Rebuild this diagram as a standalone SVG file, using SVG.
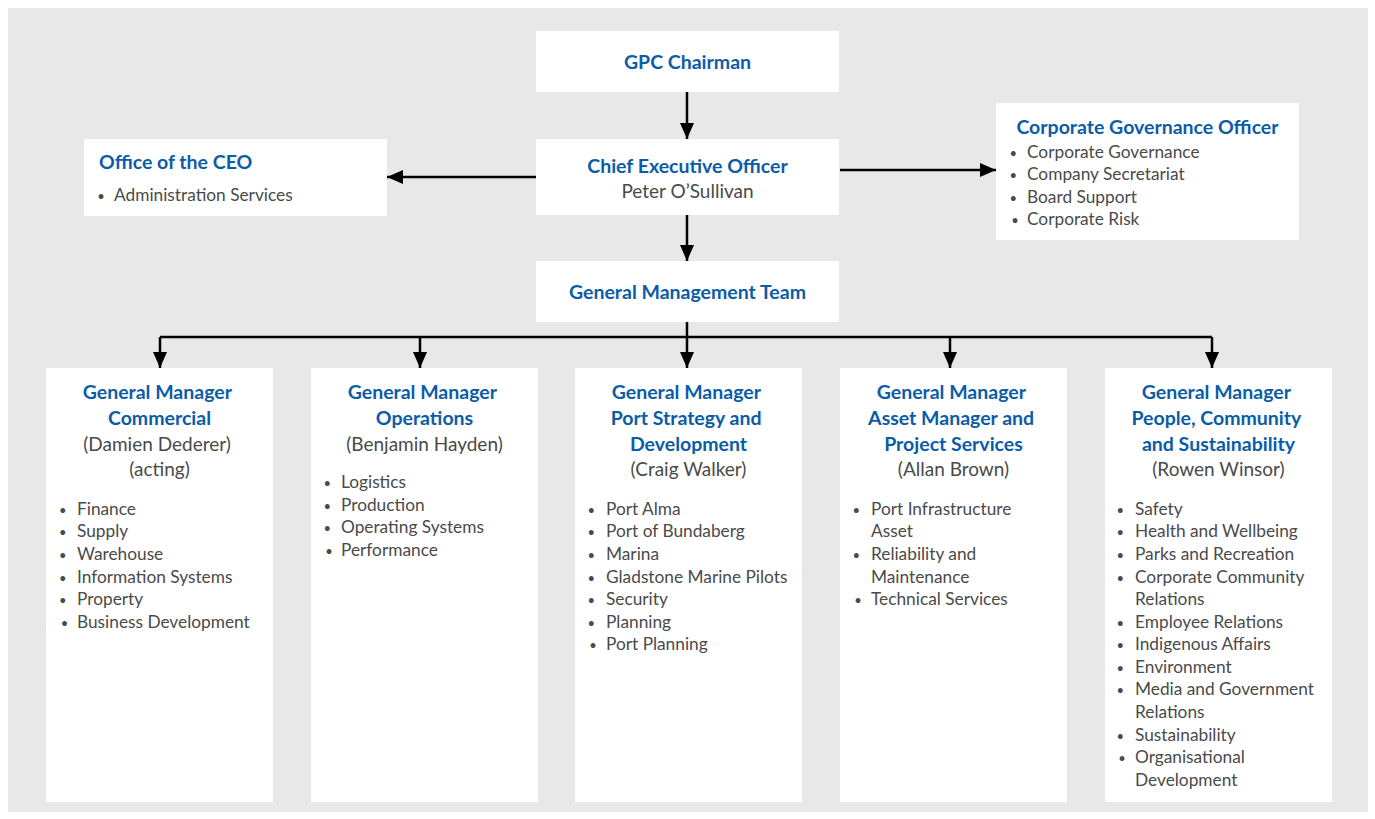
<svg xmlns="http://www.w3.org/2000/svg" width="1375" height="819" viewBox="0 0 1375 819">
  <style>
    .box { fill: #ffffff; }
    .h { font-family: Lato, "Open Sans", "Liberation Sans", sans-serif; font-weight: 700; font-size: 19.5px; fill: #0b5ca8; }
    .n { font-family: Lato, "Open Sans", "Liberation Sans", sans-serif; font-size: 19px; fill: #4a4a4a; }
    .p { font-family: Lato, "Open Sans", "Liberation Sans", sans-serif; font-size: 17.3px; fill: #4a4a4a; }
    .dot { font-family: Lato, "Open Sans", "Liberation Sans", sans-serif; font-size: 13px; fill: #4a4a4a; text-anchor: middle; }
    .c { text-anchor: middle; }
    .link { fill: none; stroke: #000; stroke-width: 2.5; }
  </style>
  <defs>
    <marker id="arrow" markerUnits="userSpaceOnUse" markerWidth="16" markerHeight="14" refX="16" refY="7" orient="auto">
      <path d="M0,0 L16,7 L0,14 Z" fill="#000"/>
    </marker>
  </defs>

  <rect x="0" y="0" width="1375" height="819" fill="#ffffff"/>
  <rect x="8" y="8" width="1360" height="804" fill="#e8e8e8"/>

  <g id="connectors">
    <line class="link" x1="687" y1="92" x2="687" y2="139" marker-end="url(#arrow)"/>
    <line class="link" x1="687" y1="215" x2="687" y2="261" marker-end="url(#arrow)"/>
    <line class="link" x1="536" y1="177" x2="387" y2="177" marker-end="url(#arrow)"/>
    <line class="link" x1="840" y1="170" x2="996" y2="170" marker-end="url(#arrow)"/>
    <polyline class="link" points="687,322 687,337"/>
    <line class="link" x1="160" y1="337" x2="1212" y2="337"/>
    <line class="link" x1="160" y1="337" x2="160" y2="368" marker-end="url(#arrow)"/>
    <line class="link" x1="420" y1="337" x2="420" y2="368" marker-end="url(#arrow)"/>
    <line class="link" x1="687" y1="337" x2="687" y2="368" marker-end="url(#arrow)"/>
    <line class="link" x1="950" y1="337" x2="950" y2="368" marker-end="url(#arrow)"/>
    <line class="link" x1="1212" y1="337" x2="1212" y2="368" marker-end="url(#arrow)"/>
  </g>

  <g id="gpc-chairman">
    <rect class="box" x="536" y="31" width="303" height="61"/>
    <text class="h c" x="687.5" y="69">GPC Chairman</text>
  </g>

  <g id="ceo">
    <rect class="box" x="536" y="139" width="303" height="76"/>
    <text class="h c" x="687.5" y="172.5">Chief Executive Officer</text>
    <text class="n c" x="687.5" y="198">Peter O’Sullivan</text>
  </g>

  <g id="gmt">
    <rect class="box" x="536" y="261" width="303" height="61"/>
    <text class="h c" x="687.5" y="299">General Management Team</text>
  </g>

  <g id="office-ceo">
    <rect class="box" x="84" y="139" width="303" height="77"/>
    <text class="h" x="99" y="169">Office of the CEO</text>
    <text class="dot" x="101" y="200.5">•</text>
    <text class="p" x="114" y="200.5">Administration Services</text>
  </g>

  <g id="cgo">
    <rect class="box" x="996" y="103" width="303" height="137"/>
    <text class="h c" x="1147.5" y="134">Corporate Governance Officer</text>
    <text class="dot">
      <tspan x="1015" y="157.5">•</tspan>
      <tspan x="1015" y="180">•</tspan>
      <tspan x="1015" y="202.5">•</tspan>
      <tspan x="1015" y="225">•</tspan>
    </text>
    <text class="p">
      <tspan x="1027" y="157.5">Corporate Governance</tspan>
      <tspan x="1027" y="180">Company Secretariat</tspan>
      <tspan x="1027" y="202.5">Board Support</tspan>
      <tspan x="1027" y="225">Corporate Risk</tspan>
    </text>
  </g>

  <g id="gm-commercial">
    <rect class="box" x="46" y="368" width="227" height="434"/>
    <text class="h c">
      <tspan x="159.5" y="399">General Manager</tspan>
      <tspan x="159.5" y="425">Commercial</tspan>
    </text>
    <text class="n c">
      <tspan x="159.5" y="451">(Damien Dederer)</tspan>
      <tspan x="159.5" y="476">(acting)</tspan>
    </text>
    <text class="dot">
      <tspan x="64.5" y="514.5">•</tspan>
      <tspan x="64.5" y="537">•</tspan>
      <tspan x="64.5" y="559.5">•</tspan>
      <tspan x="64.5" y="582.5">•</tspan>
      <tspan x="64.5" y="605">•</tspan>
      <tspan x="64.5" y="627.5">•</tspan>
    </text>
    <text class="p">
      <tspan x="77" y="514.5">Finance</tspan>
      <tspan x="77" y="537">Supply</tspan>
      <tspan x="77" y="559.5">Warehouse</tspan>
      <tspan x="77" y="582.5">Information Systems</tspan>
      <tspan x="77" y="605">Property</tspan>
      <tspan x="77" y="627.5">Business Development</tspan>
    </text>
  </g>

  <g id="gm-operations">
    <rect class="box" x="311" y="368" width="227" height="434"/>
    <text class="h c">
      <tspan x="424.5" y="399">General Manager</tspan>
      <tspan x="424.5" y="425">Operations</tspan>
    </text>
    <text class="n c" x="424.5" y="451">(Benjamin Hayden)</text>
    <text class="dot">
      <tspan x="329" y="488">•</tspan>
      <tspan x="329" y="510.5">•</tspan>
      <tspan x="329" y="533">•</tspan>
      <tspan x="329" y="555.5">•</tspan>
    </text>
    <text class="p">
      <tspan x="341" y="488">Logistics</tspan>
      <tspan x="341" y="510.5">Production</tspan>
      <tspan x="341" y="533">Operating Systems</tspan>
      <tspan x="341" y="555.5">Performance</tspan>
    </text>
  </g>

  <g id="gm-port-strategy">
    <rect class="box" x="575" y="368" width="227" height="434"/>
    <text class="h c">
      <tspan x="688.5" y="399">General Manager</tspan>
      <tspan x="688.5" y="425">Port Strategy and</tspan>
      <tspan x="688.5" y="451">Development</tspan>
    </text>
    <text class="n c" x="688.5" y="476">(Craig Walker)</text>
    <text class="dot">
      <tspan x="593" y="514.5">•</tspan>
      <tspan x="593" y="537">•</tspan>
      <tspan x="593" y="559.5">•</tspan>
      <tspan x="593" y="582.5">•</tspan>
      <tspan x="593" y="605">•</tspan>
      <tspan x="593" y="627.5">•</tspan>
      <tspan x="593" y="650">•</tspan>
    </text>
    <text class="p">
      <tspan x="606" y="514.5">Port Alma</tspan>
      <tspan x="606" y="537">Port of Bundaberg</tspan>
      <tspan x="606" y="559.5">Marina</tspan>
      <tspan x="606" y="582.5">Gladstone Marine Pilots</tspan>
      <tspan x="606" y="605">Security</tspan>
      <tspan x="606" y="627.5">Planning</tspan>
      <tspan x="606" y="650">Port Planning</tspan>
    </text>
  </g>

  <g id="gm-asset">
    <rect class="box" x="840" y="368" width="227" height="434"/>
    <text class="h c">
      <tspan x="953.5" y="399">General Manager</tspan>
      <tspan x="953.5" y="425">Asset Manager and</tspan>
      <tspan x="953.5" y="451">Project Services</tspan>
    </text>
    <text class="n c" x="953.5" y="476">(Allan Brown)</text>
    <text class="dot">
      <tspan x="858" y="514.5">•</tspan>
      <tspan x="858" y="559.5">•</tspan>
      <tspan x="858" y="605">•</tspan>
    </text>
    <text class="p">
      <tspan x="871" y="514.5">Port Infrastructure</tspan>
      <tspan x="871" y="537">Asset</tspan>
      <tspan x="871" y="559.5">Reliability and</tspan>
      <tspan x="871" y="582.5">Maintenance</tspan>
      <tspan x="871" y="605">Technical Services</tspan>
    </text>
  </g>

  <g id="gm-people">
    <rect class="box" x="1105" y="368" width="227" height="434"/>
    <text class="h c">
      <tspan x="1218.5" y="399">General Manager</tspan>
      <tspan x="1218.5" y="425">People, Community</tspan>
      <tspan x="1218.5" y="451">and Sustainability</tspan>
    </text>
    <text class="n c" x="1218.5" y="476">(Rowen Winsor)</text>
    <text class="dot">
      <tspan x="1122" y="514.5">•</tspan>
      <tspan x="1122" y="537">•</tspan>
      <tspan x="1122" y="559.5">•</tspan>
      <tspan x="1122" y="582.5">•</tspan>
      <tspan x="1122" y="627.5">•</tspan>
      <tspan x="1122" y="650">•</tspan>
      <tspan x="1122" y="672.5">•</tspan>
      <tspan x="1122" y="695">•</tspan>
      <tspan x="1122" y="740.5">•</tspan>
      <tspan x="1122" y="763">•</tspan>
    </text>
    <text class="p">
      <tspan x="1135" y="514.5">Safety</tspan>
      <tspan x="1135" y="537">Health and Wellbeing</tspan>
      <tspan x="1135" y="559.5">Parks and Recreation</tspan>
      <tspan x="1135" y="582.5">Corporate Community</tspan>
      <tspan x="1135" y="605">Relations</tspan>
      <tspan x="1135" y="627.5">Employee Relations</tspan>
      <tspan x="1135" y="650">Indigenous Affairs</tspan>
      <tspan x="1135" y="672.5">Environment</tspan>
      <tspan x="1135" y="695">Media and Government</tspan>
      <tspan x="1135" y="718">Relations</tspan>
      <tspan x="1135" y="740.5">Sustainability</tspan>
      <tspan x="1135" y="763">Organisational</tspan>
      <tspan x="1135" y="785.5">Development</tspan>
    </text>
  </g>
</svg>
